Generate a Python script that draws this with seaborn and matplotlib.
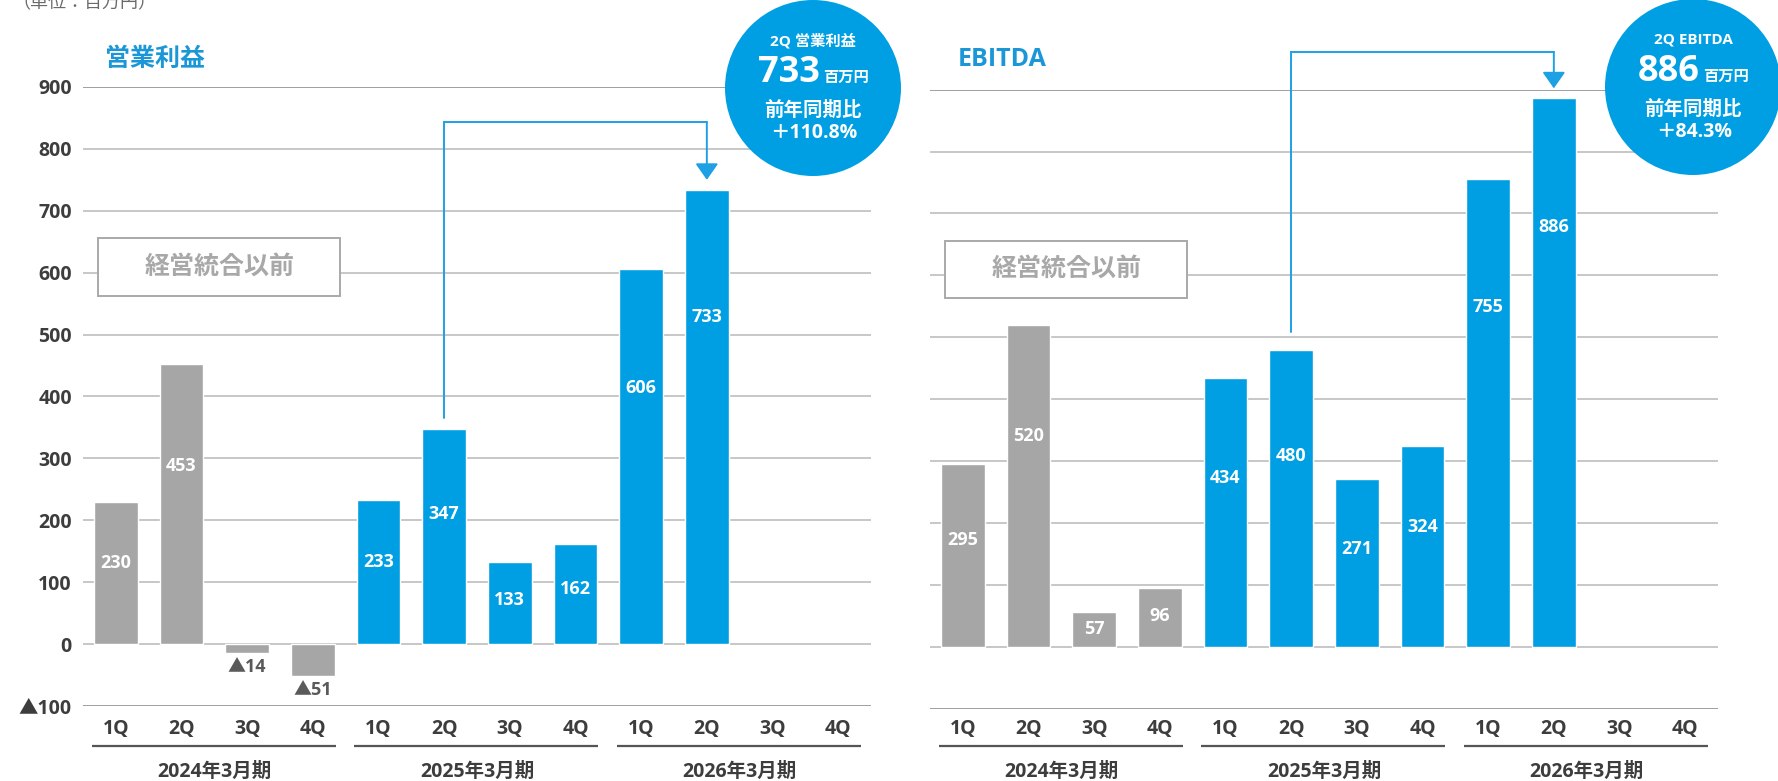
import numpy as np
import pandas as pd
import matplotlib
matplotlib.use('Agg')
import matplotlib.pyplot as plt
import matplotlib.transforms as mtransforms
from matplotlib.patches import Rectangle, Circle
import seaborn as sns

# ---------------- data ----------------
quarters = ['1Q', '2Q', '3Q', '4Q']
fiscal_years = ['2024年3月期', '2025年3月期', '2026年3月期']
op_profit = [230, 453, -14, -51, 233, 347, 133, 162, 606, 733, np.nan, np.nan]
ebitda = [295, 520, 57, 96, 434, 480, 271, 324, 755, 886, np.nan, np.nan]
era = ['pre'] * 4 + ['post'] * 8
y_ticks = [-100, 0, 100, 200, 300, 400, 500, 600, 700, 800, 900]
y_tick_labels = ['▲100', '0', '100', '200', '300', '400', '500', '600', '700', '800', '900']
panel_titles = ['営業利益', 'EBITDA']
badge_titles = ['2Q 営業利益', '2Q EBITDA']
badge_values = ['733', '886']
badge_growth = ['＋110.8%', '＋84.3%']
unit_label = '（単位：百万円）'
box_label = '経営統合以前'
arrow_from, arrow_to = 5, 9   # 2Q FY2025 -> 2Q FY2026

# ---------------- style ----------------
BLUE = '#009fe3'
TITLE_BLUE = '#1b97d8'
GRAY = '#a6a6a6'
DARK = '#3d3d3d'
GRID = '#bdbdbd'
GRID_DARK = '#8f8f8f'

sns.set_theme(style='white')
plt.rcParams['font.family'] = ['Open Sans', 'Noto Sans CJK JP', 'DejaVu Sans']

W, H = 1778, 781
fig = plt.figure(figsize=(W / 100, H / 100), dpi=100)

slots = [f'{fy}-{q}' for fy in fiscal_years for q in quarters]

axes_px = [(83, 871, 87, 706), (930, 1718, 89.6, 709)]
series_list = [op_profit, ebitda]

for k, (series, (x0, x1, yt, yb)) in enumerate(zip(series_list, axes_px)):
    ax = fig.add_axes([x0 / W, 1 - yb / H, (x1 - x0) / W, (yb - yt) / H])
    df = pd.DataFrame({'slot': slots, 'value': series, 'era': era}).dropna()
    sns.barplot(data=df, x='slot', y='value', hue='era', order=slots,
                palette={'pre': GRAY, 'post': BLUE}, dodge=False, width=0.67,
                saturation=1, legend=False, ax=ax, zorder=3, errorbar=None)
    ax.set_xlim(-0.5, 11.5)
    ax.set_ylim(-100, 900)
    for t in y_ticks:
        c = GRID_DARK if t in (900, -100) else GRID
        ax.axhline(t, color=c, lw=1.2, zorder=1)
    for s in ax.spines.values():
        s.set_visible(False)
    ax.set_xticks([])
    ax.set_xlabel('')
    ax.set_ylabel('')
    if k == 0:
        ax.set_yticks(y_ticks, y_tick_labels)
        ax.tick_params(axis='y', length=0, pad=8, labelsize=14, labelcolor=DARK)
        for lab in ax.get_yticklabels():
            lab.set_fontweight('bold')
    else:
        ax.set_yticks([])

    # value labels
    for i, v in enumerate(series):
        if np.isnan(v):
            continue
        if v >= 0:
            ax.text(i, 0.5 * v + 0.0003 * v * v, f'{v:g}', ha='center', va='center',
                    color='white', fontsize=13, fontweight='bold', zorder=5)
        else:
            ax.annotate(f'▲{abs(v):g}', xy=(i, v), xytext=(0, -14), textcoords='offset pixels',
                        ha='center', va='center', color='#5a5a5a', fontsize=13,
                        fontweight='bold', zorder=5)

    # "before integration" box
    ax.add_patch(Rectangle((-0.27, 563), 3.69, 93, facecolor='white', edgecolor='#a9a9a9',
                           lw=1.4, zorder=2))
    ax.text(1.575, 609.5, box_label, ha='center', va='center', fontsize=18,
            fontweight='bold', color='#a8a8a8', zorder=4)

    # connector arrow
    v_from, v_to = series[arrow_from], series[arrow_to]
    top = 843 if k == 0 else 961
    start = v_from + 19 if k == 0 else v_from + 29
    tip = v_to + 17 if k == 0 else v_to + 16
    ax.plot([arrow_from, arrow_from, arrow_to], [start, top, top], color='#1ea0e4',
            lw=1.4, clip_on=False, zorder=6, solid_joinstyle='miter')
    ax.annotate('', xy=(arrow_to, tip), xytext=(arrow_to, top),
                arrowprops=dict(arrowstyle='-|>,head_length=1.0,head_width=0.7',
                                mutation_scale=10, color='#1ea0e4', lw=1.4,
                                shrinkA=0, shrinkB=0),
                annotation_clip=False, zorder=6)

    # category labels
    tr = mtransforms.blended_transform_factory(ax.transData, fig.transFigure)
    for i in range(12):
        ax.text(i, 1 - 729 / H, quarters[i % 4], transform=tr, ha='center', va='center',
                fontsize=14, fontweight='bold', color=DARK)
    for g, fy in enumerate(fiscal_years):
        a = g * 4 - 0.37
        b = g * 4 + 3.35
        ax.plot([a, b], [1 - 746 / H] * 2, transform=tr, color='#555555', lw=1.6,
                clip_on=False, solid_capstyle='butt')
        ax.text(g * 4 + 1.5, 1 - 772 / H, fy, transform=tr, ha='center', va='center',
                fontsize=14, fontweight='bold', color=DARK)

    # panel title
    fig.text((x0 + 22 if k == 0 else x0 + 28) / W, 1 - 59 / H, panel_titles[k],
             ha='left', va='center', fontsize=18, fontweight='bold', color=TITLE_BLUE)

# ---------------- overlay: badges & unit ----------------
ov = fig.add_axes([0, 0, 1, 1], zorder=10)
ov.set_xlim(0, W)
ov.set_ylim(H, 0)
ov.axis('off')
ov.patch.set_alpha(0)

ov.text(12, 3, unit_label, ha='left', va='center', fontsize=13, color='#6a6a6a')

for k, (cx, cy) in enumerate([(813, 88), (1693, 87)]):
    ov.add_patch(Circle((cx, cy), 88, facecolor=BLUE, edgecolor='none'))
    ov.text(cx, cy - 47, badge_titles[k], ha='center', va='center', fontsize=11,
            fontweight='bold', color='white')
    ov.text(cx + 7, cy - 6, badge_values[k], ha='right', va='baseline', fontsize=26,
            fontweight='bold', color='white')
    ov.text(cx + 10, cy - 6, '百万円', ha='left', va='baseline', fontsize=11,
            fontweight='bold', color='white')
    ov.text(cx, cy + 23, '前年同期比', ha='center', va='center', fontsize=14,
            fontweight='bold', color='white')
    ov.text(cx + 1, cy + 45, badge_growth[k], ha='center', va='center', fontsize=14,
            fontweight='bold', color='white')

fig.savefig('out.png', dpi=100)
